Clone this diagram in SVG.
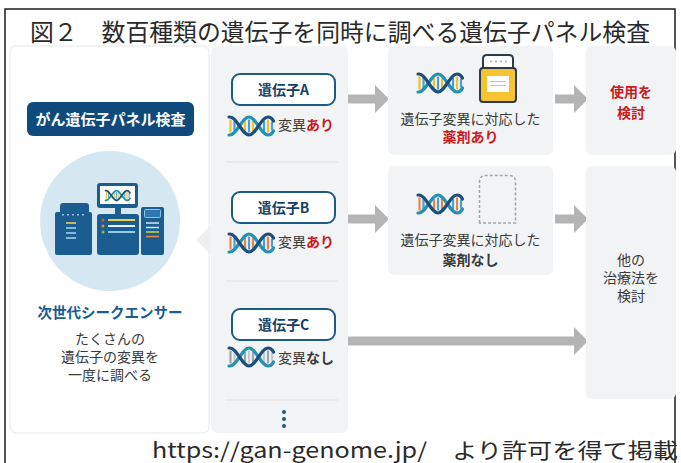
<svg xmlns="http://www.w3.org/2000/svg" xmlns:xlink="http://www.w3.org/1999/xlink" width="681" height="463" viewBox="0 0 681 463">
  <style>
    text { font-family: "Noto Sans CJK JP", "Noto Sans", sans-serif; }
    .panel { fill: #f2f3f4; }
    .card { fill: #ffffff; stroke: #e6e7e8; stroke-width: 1; }
    .arrow { fill: #b4b4b4; }
    .gene-box { fill: #ffffff; stroke: #1d5b87; stroke-width: 2; }
    .gene-label { font-size: 14px; font-weight: 700; fill: #123f66; text-anchor: middle; }
    .body { font-size: 14px; fill: #3a3a3a; }
    .mid { text-anchor: middle; }
    .b { font-weight: 700; }
    .red { fill: #cc1a1f; font-weight: 700; }
    .sep { stroke: #e1e2e3; stroke-width: 1; }
    .strand-a { fill: none; stroke: #1c4f7c; stroke-width: 3.2; stroke-linecap: round; }
    .strand-b { fill: none; stroke: #2590b5; stroke-width: 3.2; stroke-linecap: round; }
    .rung { stroke-width: 2.2; }
    .machine { fill: #1b5d91; }
  </style>
  <defs>
    <!-- double helix, 46 x 22: two crossings, open lobes at both ends -->
    <g id="helix">
      <path class="strand-b" d="M1,20 L2,20 C8.8,20 14.2,2 21,2 S33.2,20 40,20 C42.5,20 44.5,18 45.5,16"/>
      <path class="strand-a" d="M1,2 L2,2 C8.8,2 14.2,20 21,20 S33.2,2 40,2 C42.5,2 44.5,4 45.5,6"/>
    </g>
    <!-- rungs: odd ones use currentColor, even ones inherit the stroke -->
    <g id="rungs" class="rung">
      <line x1="2.5" y1="4.5" x2="2.5" y2="17.5" stroke="currentColor"/>
      <line x1="6.5" y1="6" x2="6.5" y2="16"/>
      <line x1="17" y1="6" x2="17" y2="16" stroke="currentColor"/>
      <line x1="21" y1="4.5" x2="21" y2="17.5"/>
      <line x1="25" y1="6" x2="25" y2="16" stroke="currentColor"/>
      <line x1="36" y1="6" x2="36" y2="16"/>
      <line x1="40" y1="4.5" x2="40" y2="17.5" stroke="currentColor"/>
      <line x1="44" y1="6.5" x2="44" y2="15.5"/>
    </g>
  </defs>

  <rect width="681" height="463" fill="#ffffff"/>
  <!-- outer frame -->
  <rect x="5" y="9" width="670" height="470" fill="none" stroke="#1e1e1e" stroke-width="1.5"/>

  <!-- title -->
  <text x="30" y="41" font-size="23.5" fill="#2a2a2a" textLength="620" lengthAdjust="spacingAndGlyphs">図２　数百種類の遺伝子を同時に調べる遺伝子パネル検査</text>

  <!-- background panels -->
  <rect class="card" x="10" y="46" width="199" height="387" rx="6"/>
  <rect class="panel" x="211" y="46" width="137" height="387" rx="6"/>
  <polygon points="211,225 196,240 211,255" fill="#eeeff0"/>

  <!-- connectors -->
  <g id="connectors">
    <path class="arrow" d="M348,94.5 H375 V85 L389,99 L375,113 V103.5 H348 Z"/>
    <path class="arrow" d="M348,214.5 H375 V205 L389,219 L375,233 V223.5 H348 Z"/>
    <path class="arrow" d="M348,336.5 H574 V327 L588,341 L574,355 V345.5 H348 Z"/>
    <path class="arrow" d="M555,94.5 H574 V85 L588,99 L574,113 V103.5 H555 Z"/>
    <path class="arrow" d="M555,214.5 H574 V205 L588,219 L574,233 V223.5 H555 Z"/>
  </g>

  <!-- sequencer card -->
  <g id="node-sequencer">
    <rect x="27" y="102" width="167" height="34" rx="6" fill="#0e4a7b"/>
    <text x="110.5" y="125" font-size="15" font-weight="700" fill="#ffffff" text-anchor="middle">がん遺伝子パネル検査</text>
    <circle cx="110" cy="221" r="70" fill="#d5e8f2"/>
    <!-- left unit -->
    <rect class="machine" x="60" y="203" width="29" height="11" rx="3"/>
    <rect class="machine" x="55" y="212" width="37" height="43" rx="2"/>
    <g fill="#8fc3e3">
      <rect x="62" y="214" width="2" height="1.5"/><rect x="67" y="214" width="2" height="1.5"/>
      <rect x="72" y="214" width="2" height="1.5"/><rect x="77" y="214" width="2" height="1.5"/>
      <rect x="82" y="214" width="2" height="1.5"/>
    </g>
    <line x1="66" y1="223" x2="76" y2="223" stroke="#e9d24a" stroke-width="1.6"/>
    <line x1="66" y1="228" x2="76" y2="228" stroke="#9fd0ee" stroke-width="1.6"/>
    <line x1="66" y1="233" x2="76" y2="233" stroke="#9fd0ee" stroke-width="1.6"/>
    <line x1="66" y1="238" x2="76" y2="238" stroke="#9fd0ee" stroke-width="1.6"/>
    <!-- monitor -->
    <rect class="machine" x="97" y="183" width="41" height="25" rx="3"/>
    <rect x="100" y="186" width="35" height="18" fill="#ffffff"/>
    <g transform="translate(105,189.5) scale(0.55)">
      <use xlink:href="#rungs" color="#e9c43a" stroke="#5aaad8"/>
      <use xlink:href="#helix"/>
    </g>
    <rect class="machine" x="115" y="207" width="6" height="9"/>
    <!-- centre unit -->
    <rect class="machine" x="97" y="214" width="42" height="41" rx="3"/>
    <line x1="108" y1="220" x2="135" y2="220" stroke="#e9d24a" stroke-width="2"/>
    <line x1="108" y1="226" x2="135" y2="226" stroke="#e8f1f7" stroke-width="2"/>
    <line x1="108" y1="232" x2="135" y2="232" stroke="#8fcbe9" stroke-width="2"/>
    <circle cx="103" cy="220" r="1.5" fill="#e0533b"/>
    <circle cx="103" cy="226" r="1.5" fill="#f08a3c"/>
    <circle cx="103" cy="232" r="1.5" fill="#8cc43f"/>
    <!-- right unit -->
    <rect class="machine" x="141" y="207" width="23" height="48" rx="2"/>
    <rect x="144.5" y="209.5" width="16" height="8" rx="1" fill="#2e78b0" stroke="#8fc3e3" stroke-width="1"/>
    <line x1="146" y1="223" x2="159" y2="223" stroke="#d7e8f4" stroke-width="1.5"/>
    <line x1="146" y1="227.5" x2="159" y2="227.5" stroke="#d7e8f4" stroke-width="1.5"/>
    <line x1="146" y1="232" x2="159" y2="232" stroke="#c9d74a" stroke-width="1.5"/>
    <line x1="146" y1="236.5" x2="159" y2="236.5" stroke="#e8874a" stroke-width="1.5"/>
    <text x="110" y="318" font-size="14.5" font-weight="700" fill="#1a5c92" text-anchor="middle">次世代シークエンサー</text>
    <text class="body mid" x="110" y="344">たくさんの</text>
    <text class="body mid" x="110" y="362">遺伝子の変異を</text>
    <text class="body mid" x="110" y="380">一度に調べる</text>
  </g>

  <!-- gene A -->
  <g id="node-gene-a">
    <rect class="gene-box" x="232" y="74" width="103" height="31" rx="8"/>
    <text class="gene-label" x="283.5" y="95">遺伝子A</text>
    <g transform="translate(228,115)">
      <use xlink:href="#rungs" color="#efc132" stroke="#4a9fd3"/>
      <use xlink:href="#helix"/>
    </g>
    <text class="body" x="278" y="130">変異<tspan class="red">あり</tspan></text>
  </g>
  <line class="sep" x1="226" y1="162" x2="338" y2="162"/>

  <!-- gene B -->
  <g id="node-gene-b">
    <rect class="gene-box" x="232" y="192" width="103" height="31" rx="8"/>
    <text class="gene-label" x="283.5" y="213">遺伝子B</text>
    <g transform="translate(228,232)">
      <use xlink:href="#rungs" color="#e8854a" stroke="#4a9fd3"/>
      <use xlink:href="#helix"/>
    </g>
    <text class="body" x="278" y="247">変異<tspan class="red">あり</tspan></text>
  </g>
  <line class="sep" x1="226" y1="281" x2="338" y2="281"/>

  <!-- gene C -->
  <g id="node-gene-c">
    <rect class="gene-box" x="232" y="309" width="103" height="31" rx="8"/>
    <text class="gene-label" x="283.5" y="330">遺伝子C</text>
    <g transform="translate(228,346)">
      <use xlink:href="#rungs" color="#9aa5ae" stroke="#c3cbd1"/>
      <use xlink:href="#helix"/>
    </g>
    <text class="body" x="278" y="363">変異<tspan class="b">なし</tspan></text>
  </g>
  <line class="sep" x1="226" y1="400" x2="338" y2="400"/>

  <g id="node-more" fill="#1d5b87">
    <circle cx="284" cy="412" r="2"/>
    <circle cx="284" cy="419" r="2"/>
    <circle cx="284" cy="426" r="2"/>
  </g>

  <!-- drug available -->
  <g id="node-drug-yes">
    <rect class="panel" x="388" y="46" width="165" height="109" rx="6"/>
    <g transform="translate(417,72)">
      <use xlink:href="#rungs" color="#efc132" stroke="#4a9fd3"/>
      <use xlink:href="#helix"/>
    </g>
    <path d="M483,68 V59 Q483,55 487,55 H509 Q513,55 513,59 V68 Z" fill="#ffffff" stroke="#2d3a48" stroke-width="2"/>
    <g fill="#a5adb5">
      <circle cx="491" cy="61.5" r="1"/><circle cx="496" cy="61.5" r="1"/>
      <circle cx="501" cy="61.5" r="1"/><circle cx="506" cy="61.5" r="1"/>
    </g>
    <rect x="480" y="68" width="36" height="34" rx="3" fill="#f6c332" stroke="#2d3a48" stroke-width="2"/>
    <rect x="487" y="76" width="22" height="16" fill="#ffffff"/>
    <line x1="490" y1="81.5" x2="506" y2="81.5" stroke="#c4c4c4" stroke-width="1"/>
    <line x1="490" y1="85.5" x2="506" y2="85.5" stroke="#c4c4c4" stroke-width="1"/>
    <text class="body mid" x="470.5" y="124">遺伝子変異に対応した</text>
    <text class="body mid red" x="470.5" y="142">薬剤あり</text>
  </g>

  <!-- no drug -->
  <g id="node-drug-no">
    <rect class="panel" x="388" y="166" width="165" height="109" rx="6"/>
    <g transform="translate(417,193)">
      <use xlink:href="#rungs" color="#e8854a" stroke="#4a9fd3"/>
      <use xlink:href="#helix"/>
    </g>
    <path d="M479.5,223 V182 Q479.5,175.5 486,175.5 H509 Q515.5,175.5 515.5,182 V223 Z" fill="none" stroke="#a0a6ad" stroke-width="1.5" stroke-dasharray="3 2"/>
    <text class="body mid" x="470.5" y="245">遺伝子変異に対応した</text>
    <text class="body mid b" x="470.5" y="265">薬剤なし</text>
  </g>

  <!-- outcomes -->
  <g id="node-use">
    <rect class="panel" x="586" y="46" width="90" height="109" rx="6"/>
    <text class="body mid red" x="631" y="97">使用を</text>
    <text class="body mid red" x="631" y="118">検討</text>
  </g>
  <g id="node-other">
    <rect class="panel" x="586" y="166" width="90" height="233" rx="6"/>
    <text class="body mid" x="631" y="265">他の</text>
    <text class="body mid" x="631" y="283">治療法を</text>
    <text class="body mid" x="631" y="301">検討</text>
  </g>

  <!-- credit line -->
  <text x="152" y="458" font-size="21" fill="#2a2a2a" textLength="526" lengthAdjust="spacingAndGlyphs">https://gan-genome.jp/　より許可を得て掲載</text>
</svg>
